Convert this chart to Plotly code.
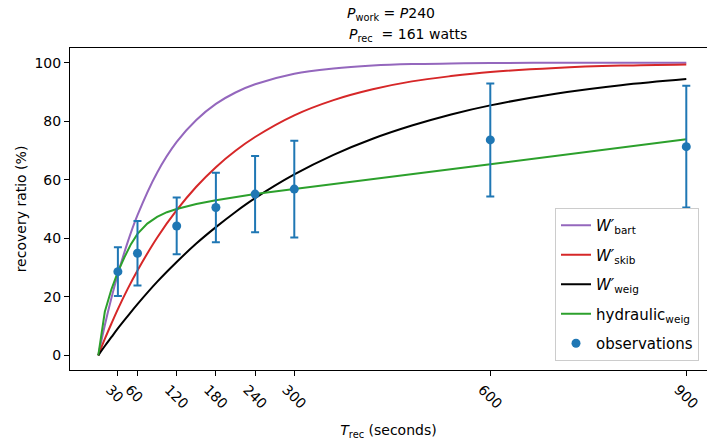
import plotly.graph_objects as go

# ---- data ----
t_model = [0, 10, 20, 30, 45, 60, 90, 120, 150, 180, 210, 240, 300, 360, 420, 480, 540, 600, 700, 800, 900]
w_bart = [0, 10.3, 19.5, 27.8, 38.7, 47.9, 62.4, 72.9, 80.4, 85.9, 89.8, 92.6, 96.2, 98.0, 99.0, 99.5, 99.7, 99.85, 99.95, 100.0, 100.0]
w_skib = [0, 5.6, 10.8, 15.8, 22.7, 29.0, 40.2, 49.6, 57.6, 64.3, 69.9, 74.6, 82.0, 87.2, 90.9, 93.6, 95.4, 96.8, 98.2, 99.0, 99.4]
w_weig = [0, 3.2, 6.2, 9.2, 13.4, 17.5, 25.1, 31.9, 38.2, 43.8, 49.0, 53.7, 61.8, 68.5, 74.0, 78.5, 82.3, 85.4, 89.4, 92.3, 94.4]

t_hyd = [0, 10, 20, 30, 40, 50, 60, 75, 90, 105, 120, 150, 180, 210, 240, 270, 300, 600, 900]
hyd_weig = [0, 14.9, 22.5, 28.5, 33.5, 38.0, 41.5, 45.0, 47.3, 48.9, 50.0, 51.7, 53.0, 54.1, 55.1, 56.0, 56.8, 65.3, 73.8]

t_obs = [30, 60, 120, 180, 240, 300, 600, 900]
obs_mean = [28.6, 34.9, 44.2, 50.5, 55.1, 56.8, 73.6, 71.3]
obs_err = [8.3, 11.0, 9.7, 11.9, 13.0, 16.5, 19.3, 20.8]

x_ticks = [30, 60, 120, 180, 240, 300, 600, 900]
y_ticks = [0, 20, 40, 60, 80, 100]

title_line1 = "<i>P</i><sub>work</sub> = <i>P</i>240"
title_line2 = "<i>P</i><sub>rec</sub>&nbsp;&nbsp;= 161 watts"

FONT = "DejaVu Sans"
W, H = 707, 440
L, R, T, B = 70, 0, 48, 70
PW, PH = W - L - R, H - T - B


def px_x(px):
    return (px - L) / PW


def px_y(py):
    return (H - B - py) / PH


fig = go.Figure()
fig.add_trace(go.Scatter(x=t_model, y=w_bart, mode="lines", line=dict(color="#9467bd", width=2, shape="spline"),
                         name="<i>W′</i><sub>bart</sub>", legendgroup="a"))
fig.add_trace(go.Scatter(x=t_model, y=w_skib, mode="lines", line=dict(color="#d62728", width=2, shape="spline"),
                         name="<i>W′</i><sub>skib</sub>", legendgroup="b"))
fig.add_trace(go.Scatter(x=t_model, y=w_weig, mode="lines", line=dict(color="black", width=2, shape="spline"),
                         name="<i>W′</i><sub>weig</sub>", legendgroup="c"))
fig.add_trace(go.Scatter(x=t_hyd, y=hyd_weig, mode="lines", line=dict(color="#2ca02c", width=2),
                         name="hydraulic<sub>weig</sub>", legendgroup="d"))
fig.add_trace(go.Scatter(x=t_obs, y=obs_mean, mode="markers", marker=dict(color="#1f77b4", size=9),
                         error_y=dict(type="data", array=obs_err, color="#1f77b4", thickness=2, width=4),
                         name="observations", legendgroup="e"))

fig.add_annotation(text=title_line1, xref="paper", yref="paper", x=px_x(345), y=px_y(14),
                   xanchor="left", yanchor="middle", showarrow=False,
                   font=dict(family=FONT, size=14, color="black"))
fig.add_annotation(text=title_line2, xref="paper", yref="paper", x=px_x(347), y=px_y(35),
                   xanchor="left", yanchor="middle", showarrow=False,
                   font=dict(family=FONT, size=14, color="black"))

fig.update_layout(
    width=W, height=H,
    margin=dict(l=L, r=R, t=T, b=B, autoexpand=False),
    paper_bgcolor="white", plot_bgcolor="white",
    font=dict(family=FONT, size=14, color="black"),
    showlegend=True,
    legend=dict(x=px_x(555), y=px_y(208), xanchor="left", yanchor="top",
                bgcolor="rgba(255,255,255,0.8)", bordercolor="#cccccc", borderwidth=1,
                font=dict(family=FONT, size=15, color="black"), tracegroupgap=7),
)
fig.update_xaxes(range=[-43.3, 931.7], tickvals=x_ticks, ticktext=[str(v) for v in x_ticks],
                 tickangle=45, ticks="outside", ticklen=5, tickcolor="black", ticklabelshift=-8,
                 showline=True, linecolor="black", linewidth=1, mirror=True,
                 showgrid=False, zeroline=False, automargin=False,
                 title=dict(text="<i>T</i><sub>rec</sub> (seconds)", font=dict(family=FONT, size=14)))
fig.update_yaxes(range=[-5, 105], tickvals=y_ticks, ticks="outside", ticklen=5, tickcolor="black",
                 showline=True, linecolor="black", linewidth=1, mirror=False,
                 showgrid=False, zeroline=False, automargin=False,
                 title=dict(text="recovery ratio (%)", font=dict(family=FONT, size=14), standoff=4))

fig.write_html("out.html", config={"displayModeBar": False},
               post_script="document.body.style.margin='0';")
